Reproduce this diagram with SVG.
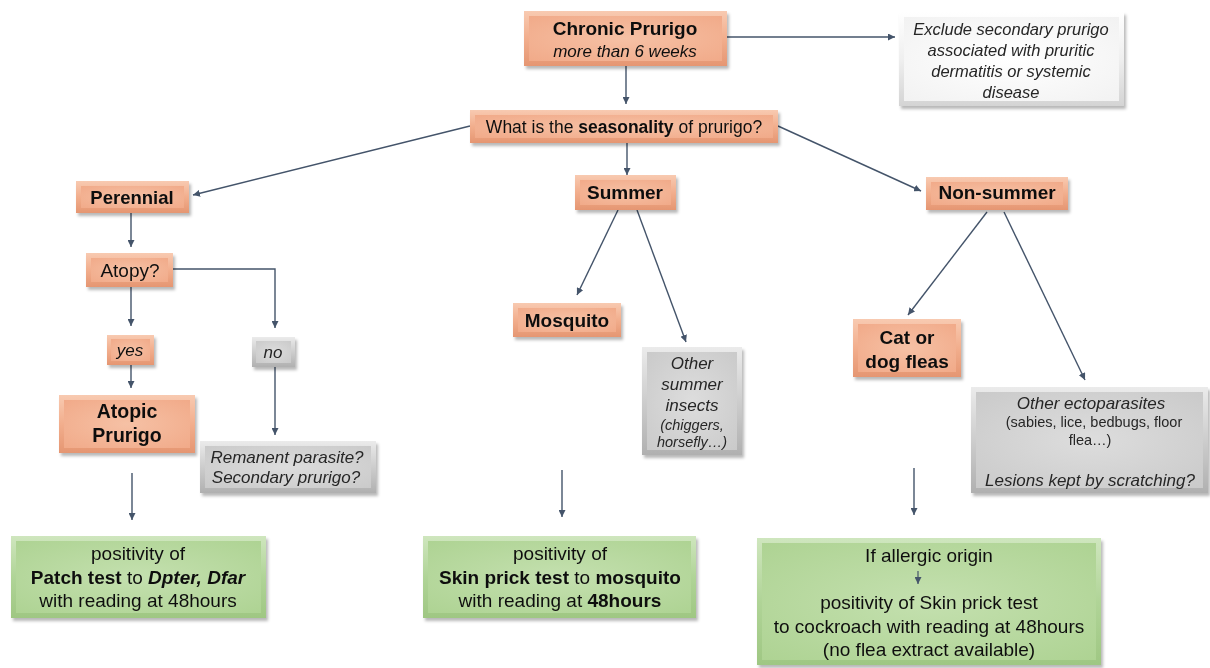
<svg xmlns="http://www.w3.org/2000/svg" width="1210" height="668" viewBox="0 0 1210 668">
<defs>
<filter id="sh" x="-10%" y="-10%" width="125%" height="130%">
<feDropShadow dx="2" dy="3" stdDeviation="1.8" flood-color="#000" flood-opacity="0.28"/>
</filter>
<linearGradient id="salO" x1="0" y1="0" x2="0" y2="1"><stop offset="0" stop-color="#F8CAB1"/><stop offset="0.5" stop-color="#F2AE8D"/><stop offset="1" stop-color="#E59672"/></linearGradient>
<radialGradient id="salI" cx="0.5" cy="0.5" r="0.7"><stop offset="0" stop-color="#F6C1A5"/><stop offset="1" stop-color="#F1AA89"/></radialGradient>
<linearGradient id="grO" x1="0" y1="0" x2="0" y2="1"><stop offset="0" stop-color="#EBEBEB"/><stop offset="0.5" stop-color="#CDCDCD"/><stop offset="1" stop-color="#B0B0B0"/></linearGradient>
<radialGradient id="grI" cx="0.5" cy="0.5" r="0.7"><stop offset="0" stop-color="#DDDDDD"/><stop offset="1" stop-color="#CACACA"/></radialGradient>
<linearGradient id="gnO" x1="0" y1="0" x2="0" y2="1"><stop offset="0" stop-color="#CFE6BE"/><stop offset="0.5" stop-color="#B0D497"/><stop offset="1" stop-color="#9FC783"/></linearGradient>
<radialGradient id="gnI" cx="0.5" cy="0.5" r="0.7"><stop offset="0" stop-color="#C4E0AF"/><stop offset="1" stop-color="#AED393"/></radialGradient>
<linearGradient id="whO" x1="0" y1="0" x2="0" y2="1"><stop offset="0" stop-color="#FFFFFF"/><stop offset="0.5" stop-color="#EFEFEF"/><stop offset="1" stop-color="#D4D4D4"/></linearGradient>
<radialGradient id="whI" cx="0.5" cy="0.5" r="0.7"><stop offset="0" stop-color="#FFFFFF"/><stop offset="1" stop-color="#F2F2F2"/></radialGradient>
<marker id="ah" markerWidth="8" markerHeight="7" refX="7" refY="3.5" orient="auto" markerUnits="userSpaceOnUse">
<path d="M0,0 L7,3.5 L0,7 Z" fill="#44546A"/>
</marker>
<style>
.sO{fill:url(#salO)}.sI{fill:url(#salI)}
.gO{fill:url(#grO)}.gI{fill:url(#grI)}
.nO{fill:url(#gnO)}.nI{fill:url(#gnI)}
.wO{fill:url(#whO)}.wI{fill:url(#whI)}
.box{filter:url(#sh)}
text{font-family:"Liberation Sans",Arial,sans-serif;text-anchor:middle;fill:#111}
.b{font-weight:bold}
.i{font-style:italic}
.g{fill:#262626}
.c{fill:none;stroke:#44546A;stroke-width:1.4;marker-end:url(#ah)}
</style>
</defs>

<g id="connectors">
<path class="c" d="M626,66 L626,104"/>
<path class="c" d="M727,37 L895,37"/>
<path class="c" d="M470,126 L193,195"/>
<path class="c" d="M627,143 L627,175"/>
<path class="c" d="M778,126 L921,191"/>
<path class="c" d="M131,213 L131,247"/>
<path class="c" d="M173,269 L275,269 L275,328"/>
<path class="c" d="M131,287 L131,326"/>
<path class="c" d="M131,365 L131,388"/>
<path class="c" d="M275,367 L275,435"/>
<path class="c" d="M618,210 L577,295"/>
<path class="c" d="M637,210 L686,342"/>
<path class="c" d="M987,212 L908,315"/>
<path class="c" d="M1004,212 L1085,380"/>
<path class="c" d="M132,473 L132,520"/>
<path class="c" d="M562,470 L562,517"/>
<path class="c" d="M914,468 L914,515"/>
</g>

<g id="chronic" class="box"><rect class="sO" x="524" y="11" width="203" height="55"/><rect class="sI" x="529" y="16" width="193" height="45"/>
<text class="b" x="625" y="35" font-size="19">Chronic Prurigo</text><text class="i" x="625" y="57" font-size="17">more than 6 weeks</text></g>

<g id="exclude" class="box"><rect class="wO" x="899" y="12" width="225" height="94"/><rect class="wI" x="904" y="17" width="215" height="84"/>
<text class="i g" x="1011" y="35" font-size="16.5">Exclude secondary prurigo</text>
<text class="i g" x="1011" y="56" font-size="16.5">associated with pruritic</text>
<text class="i g" x="1011" y="77" font-size="16.5">dermatitis or systemic</text>
<text class="i g" x="1011" y="98" font-size="16.5">disease</text></g>

<g id="seasonality" class="box"><rect class="sO" x="470" y="110" width="308" height="33"/><rect class="sI" x="475" y="115" width="298" height="23"/>
<text x="624" y="133" font-size="17.5">What is the <tspan class="b">seasonality</tspan> of prurigo?</text></g>

<g id="perennial" class="box"><rect class="sO" x="76" y="181" width="113" height="32"/><rect class="sI" x="81" y="186" width="103" height="22"/>
<text class="b" x="132" y="204" font-size="18.5">Perennial</text></g>

<g id="atopy" class="box"><rect class="sO" x="86" y="253" width="87" height="34"/><rect class="sI" x="91" y="258" width="77" height="24"/>
<text x="130" y="277" font-size="19">Atopy?</text></g>

<g id="yes" class="box"><rect class="sO" x="107" y="335" width="47" height="30"/><rect class="sI" x="111" y="339" width="39" height="22"/>
<text class="i" x="130" y="356" font-size="17">yes</text></g>

<g id="no" class="box"><rect class="gO" x="252" y="337" width="43" height="30"/><rect class="gI" x="256" y="341" width="35" height="22"/>
<text class="i g" x="273" y="358" font-size="17">no</text></g>

<g id="atopic" class="box"><rect class="sO" x="59" y="395" width="136" height="58"/><rect class="sI" x="64" y="400" width="126" height="48"/>
<text class="b" x="127" y="418" font-size="19.5">Atopic</text><text class="b" x="127" y="442" font-size="19.5">Prurigo</text></g>

<g id="remanent" class="box"><rect class="gO" x="200" y="441" width="176" height="52"/><rect class="gI" x="205" y="446" width="166" height="42"/>
<text class="i g" x="287" y="463" font-size="17">Remanent parasite?</text><text class="i g" x="286" y="483" font-size="17">Secondary prurigo?</text></g>

<g id="summer" class="box"><rect class="sO" x="575" y="175" width="101" height="35"/><rect class="sI" x="580" y="180" width="91" height="25"/>
<text class="b" x="625" y="199" font-size="19">Summer</text></g>

<g id="mosquito" class="box"><rect class="sO" x="513" y="303" width="108" height="34"/><rect class="sI" x="518" y="308" width="98" height="24"/>
<text class="b" x="567" y="327" font-size="19">Mosquito</text></g>

<g id="other-summer" class="box"><rect class="gO" x="642" y="347" width="100" height="108"/><rect class="gI" x="647" y="352" width="90" height="98"/>
<text class="i g" x="692" y="369" font-size="17">Other</text>
<text class="i g" x="692" y="390" font-size="17">summer</text>
<text class="i g" x="692" y="411" font-size="17">insects</text>
<text class="i g" x="692" y="430" font-size="14.5">(chiggers,</text>
<text class="i g" x="692" y="447" font-size="14.5">horsefly…)</text></g>

<g id="nonsummer" class="box"><rect class="sO" x="926" y="177" width="142" height="33"/><rect class="sI" x="931" y="182" width="132" height="23"/>
<text class="b" x="997" y="199" font-size="19">Non-summer</text></g>

<g id="fleas" class="box"><rect class="sO" x="853" y="319" width="108" height="58"/><rect class="sI" x="858" y="324" width="98" height="48"/>
<text class="b" x="907" y="344" font-size="19">Cat or</text><text class="b" x="907" y="368" font-size="19">dog fleas</text></g>

<g id="ectoparasites" class="box"><rect class="gO" x="971" y="387" width="237" height="106"/><rect class="gI" x="976" y="392" width="227" height="96"/>
<text class="i g" x="1091" y="409" font-size="17">Other ectoparasites</text>
<text class="g" x="1094" y="427" font-size="14.5">(sabies, lice, bedbugs, floor</text>
<text class="g" x="1090" y="445" font-size="14.5">flea…)</text>
<text class="i g" x="1090" y="486" font-size="17">Lesions kept by scratching?</text></g>

<g id="test-patch" class="box"><rect class="nO" x="11" y="536" width="255" height="82"/><rect class="nI" x="16" y="541" width="245" height="72"/>
<text x="138" y="560" font-size="19">positivity of</text>
<text x="138" y="584" font-size="19"><tspan class="b">Patch test</tspan> to <tspan class="b i">Dpter, Dfar</tspan></text>
<text x="138" y="607" font-size="19">with reading at 48hours</text></g>

<g id="test-mosquito" class="box"><rect class="nO" x="423" y="536" width="273" height="82"/><rect class="nI" x="428" y="541" width="263" height="72"/>
<text x="560" y="560" font-size="19">positivity of</text>
<text x="560" y="584" font-size="19"><tspan class="b">Skin prick test</tspan> to <tspan class="b">mosquito</tspan></text>
<text x="560" y="607" font-size="19">with reading at <tspan class="b">48hours</tspan></text></g>

<g id="test-cockroach" class="box"><rect class="nO" x="757" y="538" width="344" height="127"/><rect class="nI" x="762" y="543" width="334" height="117"/>
<text x="929" y="562" font-size="19">If allergic origin</text>
<path d="M918,571 L918,584" fill="none" stroke="#44546A" stroke-width="1.2" marker-end="url(#ah)"/>
<text x="929" y="609" font-size="19">positivity of Skin prick test</text>
<text x="929" y="633" font-size="19">to cockroach with reading at 48hours</text>
<text x="929" y="656" font-size="19">(no flea extract available)</text></g>
</svg>
